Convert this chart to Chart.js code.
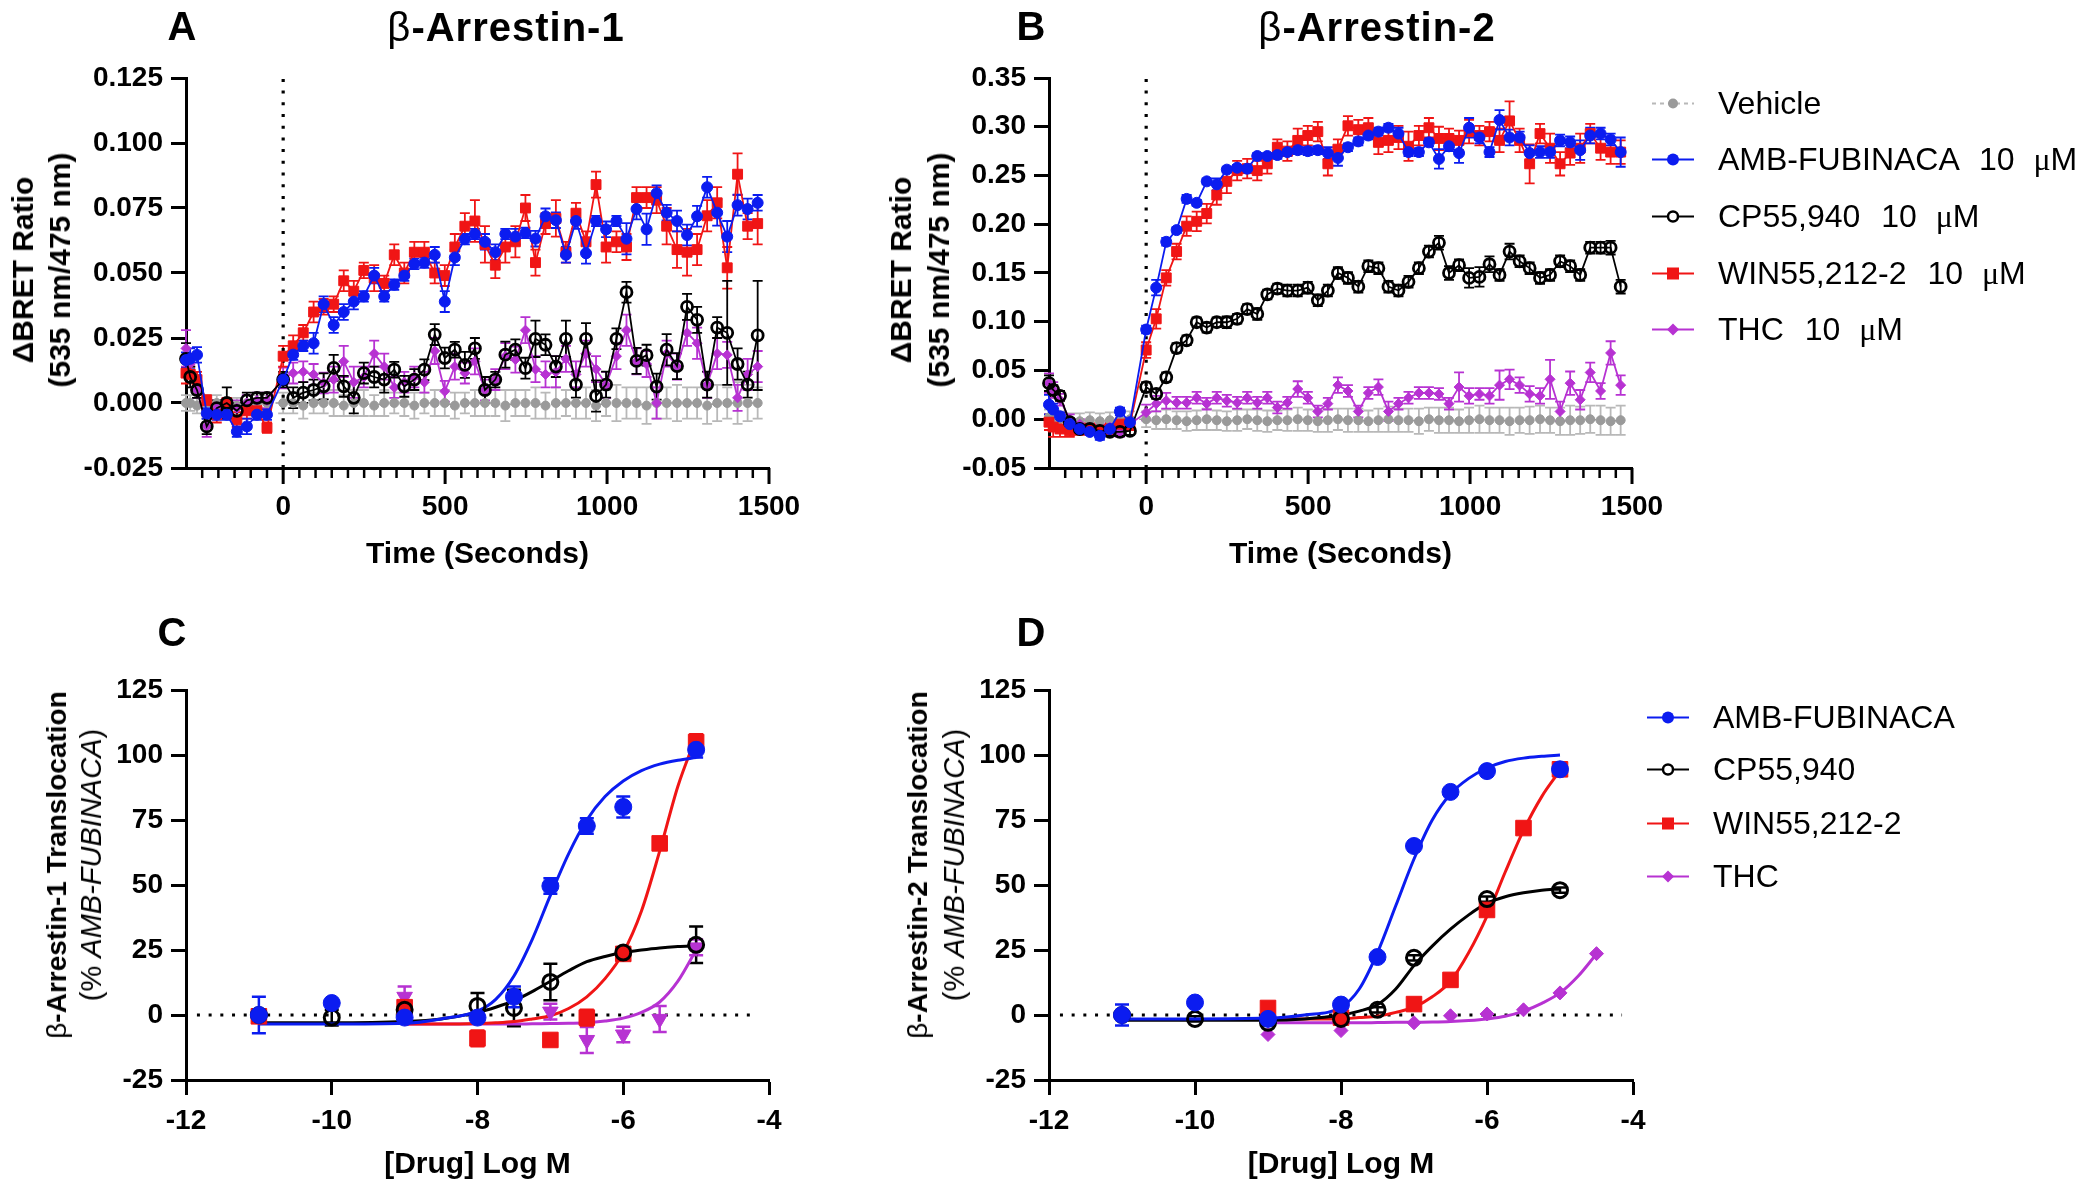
<!DOCTYPE html>
<html lang="en">
<head>
<meta charset="UTF-8" />
<script src="https://cdn.jsdelivr.net/npm/chart.js@4.4.1/dist/chart.umd.min.js"></script>
<style>
  body { margin: 0; background: #fff; }
  #page { position: relative; width: 2100px; height: 1190px; overflow: hidden;
          font-family: "Liberation Sans", Arial, sans-serif; color: #000; }
  canvas { position: absolute; }
  .letter, .ptitle, .ytitle { position: absolute; white-space: nowrap; font-weight: bold; line-height: 1; }
  .letter, .ptitle { transform: translate(-50%, -50%); font-size: 40px; }
  .ptitle { letter-spacing: 1px; }
  .ytitle { transform: translate(-50%, -50%) rotate(-90deg); text-align: center; }
  .thin { font-weight: normal; }
  .lg { position: absolute; display: flex; align-items: center; transform: translateY(-50%);
        font-size: 32px; white-space: nowrap; }
  .lg svg { margin-right: 24px; }
  .conc { margin-left: 12px; }
  .mu { margin-left: 10px; font-family: "Liberation Serif", "Times New Roman", serif; }
</style>
</head>
<body>
<div id="page">
  <canvas id="chartA" width="840" height="590" style="left:0;top:0"></canvas>
  <canvas id="chartB" width="840" height="590" style="left:850px;top:0"></canvas>
  <canvas id="chartC" width="840" height="595" style="left:0;top:595px"></canvas>
  <canvas id="chartD" width="840" height="595" style="left:850px;top:595px"></canvas>

  <div class="letter" style="left:182px;top:26px">A</div>
  <div class="letter" style="left:1031px;top:26px">B</div>
  <div class="letter" style="left:172px;top:632px">C</div>
  <div class="letter" style="left:1031px;top:632px">D</div>

  <div class="ptitle" style="left:506px;top:27px"><span class="thin">β</span>-Arrestin-1</div>
  <div class="ptitle" style="left:1377px;top:27px"><span class="thin">β</span>-Arrestin-2</div>

  <div class="ytitle" style="left:41px;top:270px;font-size:30px;line-height:37px">ΔBRET Ratio<br>(535 nm/475 nm)</div>
  <div class="ytitle" style="left:920px;top:270px;font-size:30px;line-height:38px">ΔBRET Ratio<br>(535 nm/475 nm)</div>
  <div class="ytitle" style="left:74px;top:865px;font-size:28px;line-height:35px"><span class="thin">β</span>-Arrestin-1 Translocation<br><span class="thin" style="font-size:29px">(% <i>AMB-FUBINACA</i>)</span></div>
  <div class="ytitle" style="left:936px;top:865px;font-size:28px;line-height:37px"><span class="thin">β</span>-Arrestin-2 Translocation<br><span class="thin" style="font-size:29px">(% <i>AMB-FUBINACA</i>)</span></div>

  <div id="legendTop"></div>
  <div id="legendBottom"></div>
</div>

<script>
  // ---- time course data (panels A and B) ----
  const timeSec = [-300, -287, -266, -236, -205, -174, -143, -112, -81, -50,
    0, 31, 62, 94, 125, 156, 187, 218, 249, 281, 312, 343, 374, 405, 436, 468,
    499, 530, 561, 592, 623, 655, 686, 717, 748, 779, 810, 842, 873, 904, 935,
    966, 997, 1029, 1060, 1091, 1122, 1153, 1184, 1216, 1247, 1278, 1309, 1340,
    1371, 1403, 1434, 1465];

  const vehicleA = [0.000, 0.000, -0.001, 0.000, 0.000, -0.001, -0.001, 0.000, 0.000, 0.000,
    0.000, 0.000, -0.001, 0.000, 0.000, 0.000, -0.001, 0.000, 0.000, -0.001,
    0.000, 0.000, 0.000, -0.001, 0.000, 0.000, 0.000, -0.001, 0.000, 0.000,
    0.000, 0.000, -0.001, 0.000, 0.000, 0.000, -0.001, 0.000, 0.000, 0.000,
    0.000, -0.001, 0.000, 0.000, 0.000, 0.000, -0.001, 0.000, 0.000, 0.000,
    0.000, 0.000, -0.001, 0.000, 0.000, 0.000, 0.000, 0.000];
  const vehicleAErr = [.003, .003, .003, .003, .003, .003, .003, .003, .003, .003,
    .004, .004, .005, .004, .004, .005, .004, .005, .005, .004,
    .005, .004, .005, .005, .004, .005, .005, .005, .004, .005,
    .005, .005, .006, .005, .005, .006, .005, .006, .005, .006,
    .006, .006, .005, .007, .006, .006, .007, .006, .006, .007,
    .006, .006, .007, .007, .006, .008, .007, .006];
  const ambA = [0.0165, 0.017, 0.0185, -0.004, -0.0045, -0.0045, -0.011, -0.009, -0.0045, -0.0045,
    0.009, 0.0186, 0.022, 0.023, 0.038, 0.030, 0.035, 0.039, 0.041, 0.049,
    0.041, 0.0455, 0.049, 0.0535, 0.054, 0.057, 0.039, 0.056, 0.063, 0.065,
    0.062, 0.058, 0.065, 0.064, 0.0654, 0.0632, 0.0718, 0.0703, 0.057, 0.070,
    0.0576, 0.070, 0.0668, 0.070, 0.0632, 0.0746, 0.0668, 0.0807, 0.0732, 0.070,
    0.0646, 0.0718, 0.083, 0.0732, 0.064, 0.0761, 0.0746, 0.077];
  const ambAErr = [.003, .004, .003, .002, .002, .002, .002, .003, .002, .002,
    .002, .002, .002, .004, .003, .003, .003, .003, .002, .003,
    .002, .002, .002, .002, .002, .003, .004, .003, .002, .002,
    .003, .003, .002, .003, .002, .003, .003, .003, .003, .003,
    .004, .002, .003, .002, .006, .004, .006, .003, .003, .004,
    .004, .004, .004, .005, .006, .004, .004, .003];
  const cpA = [0.017, 0.010, 0.005, -0.009, -0.002, 0.000, -0.003, 0.001, 0.002, 0.002,
    0.009, 0.002, 0.004, 0.005, 0.0064, 0.0135, 0.0064, 0.002, 0.0115, 0.010,
    0.009, 0.0128, 0.0064, 0.009, 0.0128, 0.0263, 0.0173, 0.0205, 0.0147, 0.021,
    0.005, 0.009, 0.0186, 0.0205, 0.0134, 0.0247, 0.0224, 0.014, 0.0247, 0.0071,
    0.0247, 0.0027, 0.0071, 0.0247, 0.0426, 0.0162, 0.0184, 0.0063, 0.0205, 0.0142,
    0.037, 0.032, 0.0071, 0.029, 0.027, 0.015, 0.0071, 0.026];
  const cpAErr = [.006, .004, .003, .003, .003, .006, .003, .003, .002, .002,
    .003, .004, .004, .004, .005, .005, .004, .006, .004, .004,
    .005, .003, .004, .004, .004, .004, .004, .003, .005, .004,
    .005, .003, .005, .004, .004, .007, .004, .004, .007, .005,
    .006, .006, .005, .004, .004, .005, .004, .005, .006, .005,
    .005, .005, .005, .004, .020, .006, .005, .021];
  const winA = [0.0115, 0.011, 0.009, 0.001, -0.0045, 0.000, -0.0065, -0.003, -0.003, -0.0095,
    0.018, 0.022, 0.027, 0.035, 0.037, 0.038, 0.047, 0.043, 0.051, 0.048,
    0.046, 0.057, 0.050, 0.058, 0.058, 0.050, 0.049, 0.060, 0.068, 0.070,
    0.061, 0.053, 0.060, 0.062, 0.075, 0.054, 0.069, 0.071, 0.058, 0.073,
    0.062, 0.084, 0.060, 0.062, 0.060, 0.079, 0.079, 0.078, 0.068, 0.059,
    0.058, 0.059, 0.072, 0.077, 0.052, 0.088, 0.068, 0.069];
  const winAErr = [.004, .003, .003, .002, .003, .002, .003, .003, .002, .002,
    .004, .004, .003, .004, .003, .003, .004, .004, .003, .005,
    .003, .004, .004, .004, .004, .004, .004, .005, .005, .008,
    .007, .005, .006, .006, .005, .005, .004, .007, .004, .004,
    .004, .005, .006, .004, .005, .004, .004, .005, .007, .007,
    .009, .006, .006, .006, .008, .008, .005, .008];
  const thcA = [0.021, 0.015, 0.005, -0.009, -0.002, -0.001, -0.002, 0.000, 0.001, 0.001,
    0.0096, 0.0115, 0.012, 0.011, 0.0077, 0.009, 0.016, 0.008, 0.010, 0.019,
    0.014, 0.006, 0.008, 0.010, 0.008, 0.020, 0.0045, 0.014, 0.0115, 0.016,
    0.005, 0.009, 0.018, 0.0167, 0.028, 0.013, 0.011, 0.012, 0.017, 0.011,
    0.019, 0.013, 0.007, 0.018, 0.028, 0.016, 0.015, 0.000, 0.019, 0.014,
    0.027, 0.023, 0.007, 0.019, 0.0185, 0.002, 0.011, 0.014];
  const thcAErr = [.007, .004, .003, .004, .003, .003, .003, .003, .003, .003,
    .004, .004, .004, .004, .004, .005, .006, .006, .004, .005,
    .005, .004, .004, .004, .004, .005, .004, .005, .004, .005,
    .004, .004, .005, .005, .005, .005, .005, .006, .005, .005,
    .005, .005, .005, .005, .006, .005, .005, .006, .005, .005,
    .005, .006, .005, .006, .005, .005, .006, .006];

  const vehicleB = [0.002, 0.000, 0.000, -0.002, -0.002, -0.001, -0.002, -0.001, -0.001, 0.000,
    0.000, -0.001, 0.000, -0.001, -0.002, -0.001, 0.000, -0.001, -0.002, -0.001,
    0.000, -0.001, -0.002, -0.001, -0.001, 0.000, -0.001, -0.002, -0.001, 0.000,
    -0.001, -0.001, -0.002, -0.001, 0.000, -0.001, -0.001, -0.002, 0.000, -0.001,
    -0.001, -0.002, -0.001, 0.000, -0.001, -0.001, -0.002, -0.001, -0.001, 0.000,
    -0.001, -0.002, -0.001, -0.001, 0.000, -0.001, -0.002, -0.001];
  const vehicleBErr = [.008, .008, .008, .008, .008, .008, .008, .008, .008, .008,
    .008, .009, .010, .009, .010, .010, .011, .010, .010, .011,
    .010, .011, .011, .010, .011, .012, .011, .011, .012, .011,
    .012, .012, .011, .012, .013, .012, .012, .013, .012, .013,
    .013, .012, .013, .014, .013, .013, .014, .013, .014, .014,
    .013, .014, .015, .014, .014, .015, .014, .015];
  const ambB = [0.015, 0.010, 0.003, -0.005, -0.010, -0.013, -0.017, -0.010, 0.008, -0.003,
    0.092, 0.135, 0.182, 0.194, 0.226, 0.222, 0.244, 0.241, 0.256, 0.258,
    0.257, 0.270, 0.270, 0.271, 0.274, 0.276, 0.275, 0.276, 0.273, 0.268,
    0.279, 0.285, 0.291, 0.295, 0.299, 0.293, 0.274, 0.274, 0.284, 0.267,
    0.280, 0.273, 0.299, 0.289, 0.274, 0.307, 0.289, 0.289, 0.273, 0.274,
    0.274, 0.286, 0.284, 0.276, 0.291, 0.293, 0.287, 0.274];
  const ambBErr = [.010, .006, .004, .003, .003, .003, .004, .003, .004, .003,
    .004, .008, .004, .003, .004, .003, .003, .006, .003, .003,
    .004, .003, .003, .004, .004, .004, .004, .004, .006, .008,
    .004, .004, .004, .004, .004, .006, .004, .004, .004, .010,
    .005, .010, .010, .006, .005, .010, .008, .006, .008, .006,
    .006, .006, .006, .010, .008, .006, .006, .015];
  const cpB = [0.037, 0.030, 0.024, -0.003, -0.010, -0.010, -0.012, -0.013, -0.013, -0.012,
    0.033, 0.026, 0.043, 0.073, 0.081, 0.0995, 0.094, 0.0995, 0.0995, 0.103,
    0.113, 0.108, 0.128, 0.134, 0.132, 0.132, 0.135, 0.122, 0.132, 0.150,
    0.145, 0.136, 0.157, 0.155, 0.136, 0.132, 0.141, 0.155, 0.172, 0.181,
    0.150, 0.158, 0.145, 0.146, 0.159, 0.148, 0.172, 0.162, 0.155, 0.145,
    0.148, 0.162, 0.157, 0.148, 0.176, 0.176, 0.176, 0.136];
  const cpBErr = [.008, .005, .005, .004, .004, .004, .004, .004, .004, .004,
    .005, .005, .005, .005, .005, .005, .005, .005, .006, .005,
    .005, .006, .005, .005, .006, .006, .006, .006, .006, .006,
    .006, .006, .006, .006, .006, .006, .006, .006, .006, .007,
    .007, .006, .010, .010, .008, .006, .008, .006, .006, .006,
    .006, .006, .006, .006, .006, .006, .007, .007];
  const winB = [-0.003, -0.008, -0.010, -0.012, -0.010, -0.010, -0.012, -0.010, -0.005, -0.005,
    0.071, 0.103, 0.145, 0.172, 0.198, 0.203, 0.211, 0.230, 0.244, 0.255,
    0.257, 0.255, 0.262, 0.279, 0.275, 0.286, 0.291, 0.295, 0.262, 0.277,
    0.301, 0.297, 0.299, 0.284, 0.286, 0.289, 0.280, 0.291, 0.299, 0.288,
    0.288, 0.286, 0.295, 0.291, 0.295, 0.286, 0.306, 0.286, 0.262, 0.293,
    0.278, 0.262, 0.273, 0.278, 0.293, 0.278, 0.274, 0.274];
  const winBErr = [.008, .010, .008, .006, .006, .006, .006, .006, .006, .006,
    .008, .010, .008, .008, .010, .010, .010, .010, .012, .010,
    .010, .010, .010, .008, .010, .012, .010, .010, .012, .010,
    .010, .010, .010, .012, .012, .012, .015, .010, .010, .012,
    .010, .010, .012, .010, .010, .012, .020, .012, .020, .010,
    .015, .012, .012, .015, .010, .012, .012, .012];
  const thcB = [0.037, 0.030, 0.020, 0.000, -0.005, -0.010, -0.010, -0.008, -0.013, -0.005,
    0.007, 0.016, 0.019, 0.017, 0.017, 0.022, 0.016, 0.022, 0.019, 0.017,
    0.022, 0.017, 0.022, 0.012, 0.017, 0.031, 0.022, 0.008, 0.016, 0.035,
    0.029, 0.008, 0.027, 0.033, 0.008, 0.016, 0.022, 0.027, 0.027, 0.026,
    0.016, 0.033, 0.024, 0.026, 0.024, 0.035, 0.041, 0.035, 0.026, 0.024,
    0.041, 0.008, 0.037, 0.020, 0.048, 0.029, 0.068, 0.035];
  const thcBErr = [.010, .008, .006, .005, .005, .005, .005, .005, .005, .005,
    .008, .008, .008, .006, .006, .006, .006, .006, .006, .006,
    .006, .006, .006, .006, .006, .008, .006, .006, .006, .008,
    .006, .006, .006, .008, .010, .006, .006, .006, .006, .006,
    .006, .015, .008, .006, .008, .015, .010, .008, .008, .008,
    .020, .010, .012, .010, .010, .008, .012, .010];

  // ---- concentration-response data (panels C and D), % AMB-FUBINACA ----
  const logDose = [-11, -10, -9, -8, -7.5, -7, -6.5, -6, -5.5, -5, -4.5];
  const ambC = [0, 4.6, -1, -1, 7, 49.6, 72.7, 80, null, 102, null];
  const ambCErr = [7, 1, 1, 2, 4, 3, 3, 4, null, 3, null];
  const cpC = [0, -1, 2, 3.5, 2.7, 12.7, null, 24, null, 27, null];
  const cpCErr = [2, 3, 2, 5, 7, 7, null, 2, null, 7, null];
  const winC = [-0.5, null, 3, -9, null, -9.6, -1, 23.5, 66, 105, null];
  const winCErr = [2, null, 2, 3, null, 1, 3, 2, 2, 3, null];
  const thcC = [null, null, 7, null, null, 1.3, -9.6, -7.5, -1.5, 26, null];
  const thcCErr = [null, null, 4, null, null, 3, 5, 3, 5, 3, null];

  const ambD = [0, 4.8, -1.5, 4, 22.3, 65, 85.8, 93.8, null, 94.5, null];
  const ambDErr = [4, 1, 1, 1, 1, 1, 1, 1, null, 1, null];
  const cpD = [0, -1.5, -3, -1.5, 2, 22, null, 44.6, null, 48, null];
  const cpDErr = [1, 1, 1, 1, 1, 1, null, 1, null, 1, null];
  const winD = [null, null, 2.7, -1, null, 4.2, 13.5, 40.4, 71.9, 94.5, null];
  const winDErr = [null, null, 1, 1, null, 1, 1, 1, 1, 1, null];
  const thcD = [null, null, -7.5, -6, null, -3, -0.3, 0.4, 2, 8.5, 23.6];

  // fitted curves
  const fitDose = [-11, -10, -9, -8.5, -8, -7.75, -7.5, -7.25, -7, -6.75, -6.5,
    -6.25, -6, -5.75, -5.5, -5.25, -5, -4.75, -4.5];
  const ambFitC = [-3.5, -3.5, -3.2, -1.5, 1.5, 6, 15, 29, 46, 62, 75, 84, 90, 94, 96.5, 98, 99, null, null];
  const cpFitC = [-3, -3, -2.5, -1.5, 1, 3, 5.5, 9, 13, 17, 20.5, 22.5, 24, 25, 25.8, 26.3, 26.6, null, null];
  const winFitC = [null, null, -3.5, -3.5, -3.3, -3, -2.5, -1.5, -0.3, 2.5, 7, 14, 24, 40, 63, 88, 107, null, null];
  const thcFitC = [null, null, -3.5, -3.5, -3.5, -3.5, -3.5, -3.4, -3.3, -3.2, -3, -2.3, -1.2, 1, 5, 13, 25, null, null];
  const ambFitD = [-1.5, -1.5, -1.2, 0, 3, 10, 24, 42, 60, 75, 85, 91, 95, 97.5, 98.8, 99.5, 100, null, null];
  const cpFitD = [-2, -2, -2, -1.5, 0, 1.5, 4, 10, 19, 26.5, 33, 38.5, 43, 45.5, 47, 48, 48.5, null, null];
  const winFitD = [null, null, -1.5, -1.5, -1.5, -1, -0.5, 1, 3, 7, 13, 24, 38, 55, 71, 84, 94, null, null];
  const thcFitD = [null, null, -3, -3, -3, -3, -2.9, -2.8, -2.8, -2.7, -2.5, -2.1, -1.5, -0.5, 1.5, 4.5, 8.5, 15, 23.5];

  // ---- axes ----
  const timeTicks = [0, 500, 1000, 1500];
  const yTicksA = [-0.025, 0, 0.025, 0.05, 0.075, 0.1, 0.125];
  const yTicksB = [-0.05, 0, 0.05, 0.1, 0.15, 0.2, 0.25, 0.3, 0.35];
  const doseTicks = [-12, -10, -8, -6, -4];
  const pctTicks = [-25, 0, 25, 50, 75, 100, 125];
  const baselineDose = [-11.85, -4.15];

  const legendTop = ["Vehicle", "AMB-FUBINACA 10 μM", "CP55,940 10 μM", "WIN55,212-2 10 μM", "THC 10 μM"];
  const legendBottom = ["AMB-FUBINACA", "CP55,940", "WIN55,212-2", "THC"];

  const BLUE = "#0b1cf0", RED = "#f01515", BLACK = "#000000", PURPLE = "#b732d2";
  const GRAY = "#9a9a9a", GRAY_ERR = "#b8b8b8";

  Chart.defaults.font.family = '"Liberation Sans", Arial, sans-serif';
  Chart.defaults.color = "#000";

  function pts(xs, ys, es) {
    const out = [];
    xs.forEach((x, i) => {
      if (ys[i] !== null && ys[i] !== undefined) out.push({ x: x, y: ys[i], e: es ? es[i] : null });
    });
    return out;
  }

  // vertical error bars, drawn under the markers
  const errorBarPlugin = {
    id: "errorBars",
    beforeDatasetsDraw(chart) {
      const ctx = chart.ctx;
      const yScale = chart.scales.y;
      for (let i = chart.data.datasets.length - 1; i >= 0; i--) {
        const ds = chart.data.datasets[i];
        if (!ds.errorBar) continue;
        const meta = chart.getDatasetMeta(i);
        const cap = ds.errorBar.cap;
        ctx.save();
        ctx.strokeStyle = ds.errorBar.color;
        ctx.lineWidth = ds.errorBar.width;
        ctx.beginPath();
        meta.data.forEach((el, j) => {
          const d = ds.data[j];
          if (d.e === null || d.e === undefined) return;
          const top = yScale.getPixelForValue(d.y + d.e);
          const bot = yScale.getPixelForValue(d.y - d.e);
          ctx.moveTo(el.x, top); ctx.lineTo(el.x, bot);
          ctx.moveTo(el.x - cap, top); ctx.lineTo(el.x + cap, top);
          ctx.moveTo(el.x - cap, bot); ctx.lineTo(el.x + cap, bot);
        });
        ctx.stroke();
        ctx.restore();
      }
    }
  };

  // major + minor tick marks on the time axis
  const timeTickPlugin = {
    id: "timeTicks",
    afterDraw(chart, args, opts) {
      if (!opts || !opts.step) return;
      const xs = chart.scales.x, ctx = chart.ctx, y0 = chart.chartArea.bottom;
      ctx.save();
      ctx.strokeStyle = "#000";
      for (let t = opts.from; t <= opts.to; t += opts.step) {
        const major = timeTicks.includes(t);
        const px = xs.getPixelForValue(t);
        ctx.lineWidth = major ? 3 : 2.5;
        ctx.beginPath();
        ctx.moveTo(px, y0);
        ctx.lineTo(px, y0 + (major ? 16 : 10));
        ctx.stroke();
      }
      ctx.restore();
    }
  };

  const tickFont = { size: 28, weight: "bold" };
  const titleFont = { size: 30, weight: "bold" };

  function yAxis(ticks, fmt) {
    return {
      type: "linear",
      min: ticks[0],
      max: ticks[ticks.length - 1],
      afterBuildTicks: (s) => { s.ticks = ticks.map((v) => ({ value: v })); },
      grid: { drawOnChartArea: false, drawTicks: true, tickLength: 15, tickWidth: 3, tickColor: "#000" },
      border: { display: true, color: "#000", width: 3 },
      ticks: { font: tickFont, padding: 8, callback: fmt },
      afterFit: (s) => { s.width = 150; },
    };
  }

  function timeSet(ys, es, color, style, radius, extra) {
    return Object.assign({
      data: pts(timeSec, ys, es),
      borderColor: color,
      backgroundColor: color,
      pointBackgroundColor: color,
      pointBorderColor: color,
      borderWidth: 1.8,
      pointStyle: style,
      pointRadius: radius,
      pointBorderWidth: 1,
      clip: false,
      errorBar: { color: color, width: 1.8, cap: 5 },
    }, extra || {});
  }

  function timeChart(id, sets, yTicks, digits, pad) {
    const dotted = {
      data: [{ x: 0, y: yTicks[0] }, { x: 0, y: yTicks[yTicks.length - 1] }],
      borderColor: "#000", borderWidth: 3.2, borderDash: [3, 8.7], pointRadius: 0,
    };
    return new Chart(document.getElementById(id), {
      type: "line",
      data: { datasets: sets.concat([dotted]) },
      options: {
        responsive: false,
        animation: false,
        layout: { padding: pad },
        plugins: {
          legend: { display: false },
          tooltip: { enabled: false },
          timeTicks: { from: -250, to: 1500, step: 50 },
        },
        scales: {
          x: {
            type: "linear",
            min: -300,
            max: 1500,
            afterBuildTicks: (s) => { s.ticks = timeTicks.map((v) => ({ value: v })); },
            grid: { display: false, drawTicks: false },
            border: { display: true, color: "#000", width: 3 },
            ticks: { font: tickFont, padding: 22, maxRotation: 0, autoSkip: false, callback: (v) => String(v) },
            title: { display: true, text: "Time (Seconds)", font: titleFont, padding: 0 },
            afterFit: (s) => { s.height = 105; },
          },
          y: yAxis(yTicks, (v) => Number(v).toFixed(digits)),
        },
      },
      plugins: [errorBarPlugin, timeTickPlugin],
    });
  }

  function doseSet(ys, es, color, style, radius, extra) {
    return Object.assign({
      data: pts(logDose, ys, es),
      showLine: false,
      borderColor: color,
      backgroundColor: color,
      pointBackgroundColor: color,
      pointBorderColor: color,
      pointStyle: style,
      pointRadius: radius,
      pointBorderWidth: 1,
      errorBar: { color: color, width: 2.5, cap: 7 },
    }, extra || {});
  }

  function fitSet(ys, color) {
    return {
      data: pts(fitDose, ys),
      borderColor: color,
      borderWidth: 3,
      pointRadius: 0,
      cubicInterpolationMode: "monotone",
    };
  }

  function doseChart(id, pointSets, fitSets, pad) {
    const dotted = {
      data: [{ x: baselineDose[0], y: 0 }, { x: baselineDose[1], y: 0 }],
      borderColor: "#000", borderWidth: 3.2, borderDash: [3, 8.7], pointRadius: 0,
    };
    return new Chart(document.getElementById(id), {
      type: "line",
      data: { datasets: pointSets.concat(fitSets, [dotted]) },
      options: {
        responsive: false,
        animation: false,
        layout: { padding: pad },
        plugins: { legend: { display: false }, tooltip: { enabled: false } },
        scales: {
          x: {
            type: "linear",
            min: doseTicks[0],
            max: doseTicks[doseTicks.length - 1],
            afterBuildTicks: (s) => { s.ticks = doseTicks.map((v) => ({ value: v })); },
            grid: { drawOnChartArea: false, drawTicks: true, tickLength: 15, tickWidth: 3, tickColor: "#000" },
            border: { display: true, color: "#000", width: 3 },
            ticks: { font: tickFont, padding: 9, maxRotation: 0, autoSkip: false, callback: (v) => String(v) },
            title: { display: true, text: "[Drug] Log M", font: titleFont, padding: 0 },
            afterFit: (s) => { s.height = 103; },
          },
          y: yAxis(pctTicks, (v) => String(v)),
        },
      },
      plugins: [errorBarPlugin],
    });
  }

  const openCircle = { pointBackgroundColor: "rgba(255,255,255,0)", pointBorderWidth: 2.8 };
  const openCircleBig = { pointBackgroundColor: "rgba(255,255,255,0)", pointBorderWidth: 3 };
  const vehicleStyle = { borderDash: [4, 3], borderWidth: 1.5, errorBar: { color: GRAY_ERR, width: 1.8, cap: 5 } };

  timeChart("chartA", [
    timeSet(ambA, ambAErr, BLUE, "circle", 5.5),
    timeSet(cpA, cpAErr, BLACK, "circle", 5.5, openCircle),
    timeSet(winA, winAErr, RED, "rect", 7),
    timeSet(thcA, thcAErr, PURPLE, "rectRot", 5),
    timeSet(vehicleA, vehicleAErr, GRAY, "circle", 4.5, vehicleStyle),
  ], yTicksA, 3, { left: 36, right: 71, top: 78, bottom: 17 });

  timeChart("chartB", [
    timeSet(ambB, ambBErr, BLUE, "circle", 5.5),
    timeSet(cpB, cpBErr, BLACK, "circle", 5.5, openCircle),
    timeSet(winB, winBErr, RED, "rect", 7),
    timeSet(thcB, thcBErr, PURPLE, "rectRot", 5),
    timeSet(vehicleB, vehicleBErr, GRAY, "circle", 4.5, vehicleStyle),
  ], yTicksB, 2, { left: 49, right: 58, top: 78, bottom: 17 });

  doseChart("chartC", [
    doseSet(ambC, ambCErr, BLUE, "circle", 8.5),
    doseSet(cpC, cpCErr, BLACK, "circle", 7.5, openCircleBig),
    doseSet(winC, winCErr, RED, "rect", 11),
    doseSet(thcC, thcCErr, PURPLE, "triangle", 9, { pointRotation: 180 }),
  ], [
    fitSet(ambFitC, BLUE), fitSet(cpFitC, BLACK), fitSet(winFitC, RED), fitSet(thcFitC, PURPLE),
  ], { left: 36, right: 71, top: 95, bottom: 7 });

  doseChart("chartD", [
    doseSet(ambD, ambDErr, BLUE, "circle", 8.5),
    doseSet(cpD, cpDErr, BLACK, "circle", 7.5, openCircleBig),
    doseSet(winD, winDErr, RED, "rect", 11),
    doseSet(thcD, null, PURPLE, "rectRot", 7),
  ], [
    fitSet(ambFitD, BLUE), fitSet(cpFitD, BLACK), fitSet(winFitD, RED), fitSet(thcFitD, PURPLE),
  ], { left: 49, right: 57, top: 95, bottom: 7 });

  // ---- legends ----
  function legendIcon(color, marker, dashed) {
    let m = "";
    if (marker === "dot") m = `<circle cx="21" cy="12" r="6" fill="${color}"/>`;
    if (marker === "smalldot") m = `<circle cx="21" cy="12" r="5" fill="${color}"/>`;
    if (marker === "ring") m = `<circle cx="21" cy="12" r="5" fill="#fff" stroke="${color}" stroke-width="2.5"/>`;
    if (marker === "square") m = `<rect x="15" y="6" width="12" height="12" fill="${color}"/>`;
    if (marker === "diamond") m = `<polygon points="21,6 27,12 21,18 15,12" fill="${color}"/>`;
    const lineColor = dashed ? GRAY_ERR : color;
    const dash = dashed ? ' stroke-dasharray="4 4"' : "";
    return `<svg width="42" height="24"><line x1="0" y1="12" x2="42" y2="12" stroke="${lineColor}" stroke-width="2"${dash}/>${m}</svg>`;
  }

  function buildLegend(el, names, icons, left, rows) {
    names.forEach((name, i) => {
      const row = document.createElement("div");
      row.className = "lg";
      row.style.left = left + "px";
      row.style.top = rows[i] + "px";
      row.innerHTML = icons[i];
      const span = document.createElement("span");
      const parts = name.split(" ");
      if (parts.length === 3 && parts[2] === "μM") {
        // "NAME 10 μM": wider gaps and a serif mu, as in the figure
        span.appendChild(document.createTextNode(parts[0] + " "));
        const conc = document.createElement("span");
        conc.className = "conc";
        conc.textContent = parts[1] + " ";
        const mu = document.createElement("span");
        mu.className = "mu";
        mu.textContent = "μ";
        conc.appendChild(mu);
        conc.appendChild(document.createTextNode("M"));
        span.appendChild(conc);
      } else {
        span.textContent = name;
      }
      row.appendChild(span);
      el.appendChild(row);
    });
  }

  buildLegend(document.getElementById("legendTop"), legendTop, [
    legendIcon(GRAY, "smalldot", true),
    legendIcon(BLUE, "dot"),
    legendIcon(BLACK, "ring"),
    legendIcon(RED, "square"),
    legendIcon(PURPLE, "diamond"),
  ], 1652, [103, 159, 216, 273, 329]);

  buildLegend(document.getElementById("legendBottom"), legendBottom, [
    legendIcon(BLUE, "dot"),
    legendIcon(BLACK, "ring"),
    legendIcon(RED, "square"),
    legendIcon(PURPLE, "diamond"),
  ], 1647, [717, 769, 823, 876]);
</script>
</body>
</html>
